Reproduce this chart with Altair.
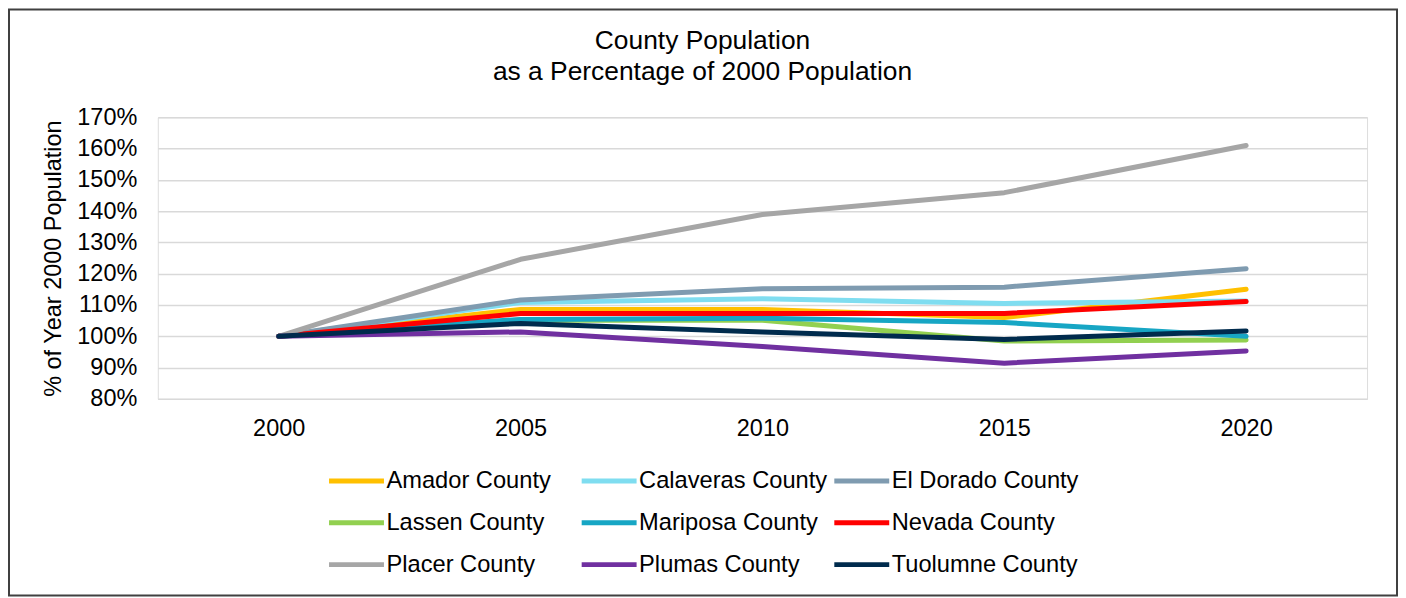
import altair as alt
import pandas as pd

years = ["2000", "2005", "2010", "2015", "2020"]
counties = ["Amador County", "Calaveras County", "El Dorado County",
            "Lassen County", "Mariposa County", "Nevada County",
            "Placer County", "Plumas County", "Tuolumne County"]
amador = [1.000, 1.086, 1.086, 1.060, 1.150]
calaveras = [1.000, 1.108, 1.120, 1.105, 1.113]
el_dorado = [1.000, 1.116, 1.152, 1.157, 1.216]
lassen = [1.000, 1.052, 1.051, 0.985, 0.988]
mariposa = [1.000, 1.054, 1.058, 1.044, 1.000]
nevada = [1.000, 1.073, 1.073, 1.073, 1.111]
placer = [1.000, 1.246, 1.389, 1.459, 1.610]
plumas = [1.000, 1.014, 0.967, 0.914, 0.953]
tuolumne = [1.000, 1.041, 1.014, 0.990, 1.017]
colors = ["#FFC000", "#7FDDF0", "#7F9BB0", "#92D050", "#17A6C4",
          "#FF0000", "#A6A6A6", "#7030A0", "#002B4D"]

series = [amador, calaveras, el_dorado, lassen, mariposa, nevada,
          placer, plumas, tuolumne]
rows = []
for name, vals in zip(counties, series):
    for yr, v in zip(years, vals):
        rows.append({"Year": yr, "County": name, "Value": v})
df = pd.DataFrame(rows)

FONT = "Liberation Sans"
W, H = 1211, 282

lines = alt.Chart(df).mark_line(strokeWidth=5, strokeCap="round", strokeJoin="round").encode(
    x=alt.X("Year:O", sort=years,
            scale=alt.Scale(type="point", padding=0.5),
            axis=alt.Axis(title=None, labelAngle=0, ticks=False, domain=False,
                          grid=False, labelPadding=18, labelFontSize=23.5,
                          labelFont=FONT, labelColor="black")),
    y=alt.Y("Value:Q",
            scale=alt.Scale(domain=[0.8, 1.7], nice=False, zero=False),
            axis=alt.Axis(format=".0%", values=[0.8, 0.9, 1.0, 1.1, 1.2, 1.3, 1.4, 1.5, 1.6, 1.7],
                          title="% of Year 2000 Population", titleFont=FONT,
                          titleFontSize=23.5, titleFontWeight="normal", titleColor="black",
                          titleX=-104, titleY=H / 2, titleAngle=-90, titleAlign="center",
                          titleBaseline="middle",
                          ticks=False, domain=False, labelPadding=21,
                          labelFontSize=23.5, labelFont=FONT, labelColor="black",
                          gridColor="#D9D9D9", gridWidth=1.5)),
    color=alt.Color("County:N", sort=counties,
                    scale=alt.Scale(domain=counties, range=colors),
                    legend=alt.Legend(orient="none", legendX=169, legendY=334,
                                      direction="horizontal",
                                      columns=3, title=None, symbolType="stroke",
                                      symbolSize=3025, symbolStrokeWidth=5,
                                      labelFontSize=23.7, labelFont=FONT,
                                      labelColor="black", labelLimit=400,
                                      columnPadding=-4, rowPadding=0,
                                      labelOffset=0, gridAlign="all", padding=0)),
    order=alt.Order("Year:O"),
)

border = alt.Chart(alt.Data(values=[{"k": 1}])).mark_rect(
    fillOpacity=0, stroke="#404040", strokeWidth=2, clip=False
).encode(
    x=alt.value(-149), x2=alt.value(W + 30),
    y=alt.value(-108), y2=alt.value(H + 197),
)

chart = alt.layer(lines, border).properties(
    width=W, height=H,
    title=alt.TitleParams(["County Population", "as a Percentage of 2000 Population"],
                          fontSize=26.4, font=FONT, fontWeight="normal", color="black",
                          anchor="middle", dx=-60, dy=107, lineHeight=31, offset=30),
    autosize=alt.AutoSizeParams(type="none"),
    padding={"left": 150, "top": 109, "right": 31, "bottom": 198},
).configure_view(stroke=None).configure(background="white")

chart.save("out.html", embed_options={"renderer": "svg", "actions": False})
